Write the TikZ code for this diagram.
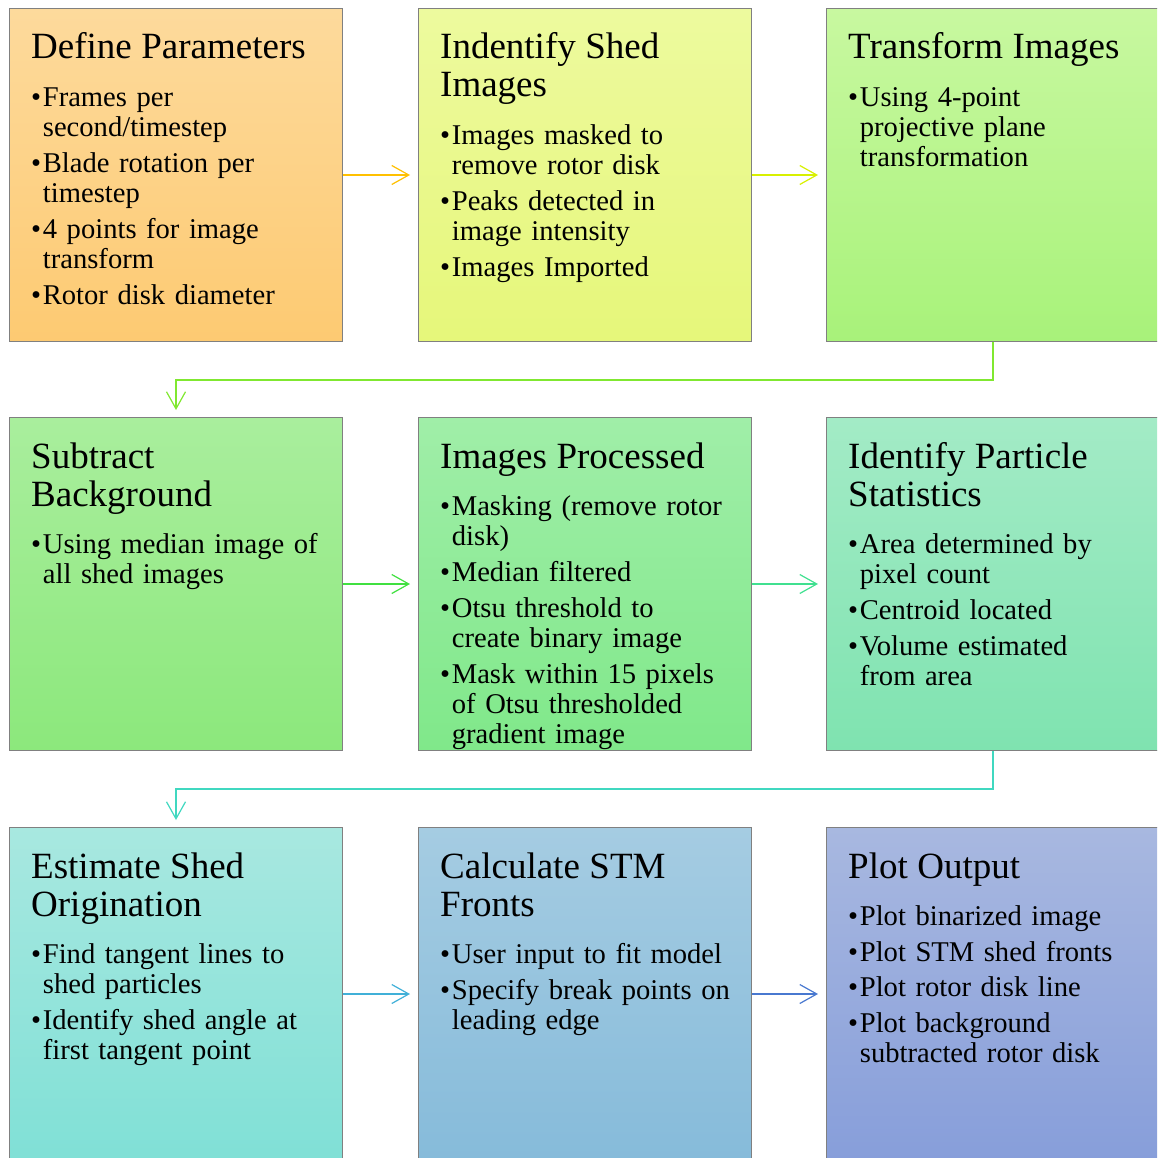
\documentclass[tikz,border=0pt]{standalone}
\usepackage{fontspec}
\setmainfont{Liberation Serif}
\usetikzlibrary{arrows.meta}
\definecolor{t1}{HTML}{FDDA9C}\definecolor{b1}{HTML}{FDCA72}
\definecolor{t2}{HTML}{EDFA9E}\definecolor{b2}{HTML}{E6F77A}
\definecolor{t3}{HTML}{C8F8A0}\definecolor{b3}{HTML}{A8F27A}
\definecolor{t4}{HTML}{A9EE9D}\definecolor{b4}{HTML}{8CE87C}
\definecolor{t5}{HTML}{A0EEA8}\definecolor{b5}{HTML}{80E88A}
\definecolor{t6}{HTML}{A3EBC6}\definecolor{b6}{HTML}{7FE3B0}
\definecolor{t7}{HTML}{A8E8E0}\definecolor{b7}{HTML}{80E0D6}
\definecolor{t8}{HTML}{A5CCE2}\definecolor{b8}{HTML}{86BBDA}
\definecolor{t9}{HTML}{A8B8E0}\definecolor{b9}{HTML}{879EDA}
\definecolor{a1}{HTML}{FFC000}
\definecolor{a2}{HTML}{D8F000}
\definecolor{a3}{HTML}{80E830}
\definecolor{a4}{HTML}{40E040}
\definecolor{a5}{HTML}{40E090}
\definecolor{a6}{HTML}{40D8C0}
\definecolor{a7}{HTML}{40B0D8}
\definecolor{a8}{HTML}{4878D0}
\newcommand\ttl[1]{{\fontsize{37}{38}\selectfont #1\par}\vspace{17pt}}
\newcommand\bul[1]{\par\hangindent=11.7pt\hangafter=1\noindent\makebox[11.7pt][l]{\textbullet}#1\par}
\newcommand\isep{\vspace{5.4pt}}
\tikzset{
  card/.style={draw=black!50, line width=1pt, minimum width=333pt, minimum height=333pt, inner sep=0pt, anchor=north west},
  txt/.style={anchor=base west, inner sep=0pt, text width=320pt, align=left, font=\fontsize{28.6}{30.3}\selectfont},
  conn/.style={line width=1.2pt, -{Straight Barb[length=17pt,width=19pt,line width=1.2pt]}},
}
\begin{document}
\begin{tikzpicture}[x=1pt,y=-1pt]
\useasboundingbox (0,0) rectangle (1157,1158);
\clip (0,0) rectangle (1157,1158);
% boxes
\node[card, top color=t1, bottom color=b1] (n1) at (9,8) {};
\node[card, top color=t2, bottom color=b2] (n2) at (418,8) {};
\node[card, top color=t3, bottom color=b3] (n3) at (826,8) {};
\node[card, top color=t4, bottom color=b4] (n4) at (9,417) {};
\node[card, top color=t5, bottom color=b5] (n5) at (418,417) {};
\node[card, top color=t6, bottom color=b6] (n6) at (826,417) {};
\node[card, top color=t7, bottom color=b7] (n7) at (9,827) {};
\node[card, top color=t8, bottom color=b8] (n8) at (418,827) {};
\node[card, top color=t9, bottom color=b9] (n9) at (826,827) {};
% texts
\node[txt] (x1) at (31,59) {\ttl{Define Parameters}%
\bul{Frames per\newline second/timestep}\isep
\bul{Blade rotation per\newline timestep}\isep
\bul{4 points for image\newline transform}\isep
\bul{Rotor disk diameter}};
\node[txt] (x2) at (440,59) {\ttl{Indentify Shed\newline Images}%
\bul{Images masked to\newline remove rotor disk}\isep
\bul{Peaks detected in\newline image intensity}\isep
\bul{Images Imported}};
\node[txt] (x3) at (848,59) {\ttl{Transform Images}%
\bul{Using 4-point\newline projective plane\newline transformation}};
\node[txt] (x4) at (31,468) {\ttl{Subtract\newline Background}%
\bul{Using median image of\newline all shed images}};
\node[txt] (x5) at (440,468) {\ttl{Images Processed}%
\bul{Masking (remove rotor\newline disk)}\isep
\bul{Median filtered}\isep
\bul{Otsu threshold to\newline create binary image}\isep
\bul{Mask within 15 pixels\newline of Otsu thresholded\newline gradient image}};
\node[txt] (x6) at (848,468) {\ttl{Identify Particle\newline Statistics}%
\bul{Area determined by\newline pixel count}\isep
\bul{Centroid located}\isep
\bul{Volume estimated\newline from area}};
\node[txt] (x7) at (31,878) {\ttl{Estimate Shed\newline Origination}%
\bul{Find tangent lines to\newline shed particles}\isep
\bul{Identify shed angle at\newline first tangent point}};
\node[txt] (x8) at (440,878) {\ttl{Calculate STM\newline Fronts}%
\bul{User input to fit model}\isep
\bul{Specify break points on\newline leading edge}};
\node[txt] (x9) at (848,878) {\ttl{Plot Output}%
\bul{Plot binarized image}\isep
\bul{Plot STM shed fronts}\isep
\bul{Plot rotor disk line}\isep
\bul{Plot background\newline subtracted rotor disk}};
% connectors
\draw[conn, a1] (n1.east) -- ([xshift=-8pt]n2.west);
\draw[conn, a2] (n2.east) -- ([xshift=-8pt]n3.west);
\draw[conn, a3] (n3.south) -- ++(0,38) -| ([yshift=7pt]n4.north);
\draw[conn, a4] (n4.east) -- ([xshift=-8pt]n5.west);
\draw[conn, a5] (n5.east) -- ([xshift=-8pt]n6.west);
\draw[conn, a6] (n6.south) -- ++(0,38) -| ([yshift=7pt]n7.north);
\draw[conn, a7] (n7.east) -- ([xshift=-8pt]n8.west);
\draw[conn, a8] (n8.east) -- ([xshift=-8pt]n9.west);
\end{tikzpicture}
\end{document}
